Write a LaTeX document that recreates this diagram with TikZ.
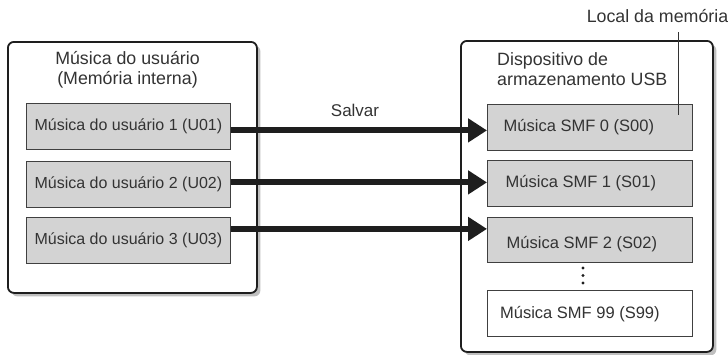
\documentclass[tikz,border=0pt]{standalone}
\usepackage{fontspec}
\setmainfont{Liberation Sans}
\usetikzlibrary{arrows.meta,shadows}
\definecolor{txt}{HTML}{333333}
\definecolor{boxfill}{HTML}{D3D3D3}
\definecolor{edge}{HTML}{1E1E1E}
\tikzset{
  outerbox/.style={draw=edge, line width=1.8pt, rounded corners=6pt, fill=white,
    drop shadow={shadow xshift=3.5pt, shadow yshift=-3.5pt, fill=black!25, opacity=1},
    minimum width=#1, anchor=north west, inner sep=0pt},
  songbox/.style={draw=black!75, line width=0.8pt, fill=boxfill, minimum width=205pt,
    minimum height=46pt, anchor=north west, inner sep=0pt},
  emptybox/.style={songbox, fill=white},
  lbl/.style={text=txt, font=\fontsize{16}{19}\selectfont, inner sep=0pt},
  rlbl/.style={lbl, font=\fontsize{16.5}{19}\selectfont},
  title/.style={lbl, font=\fontsize{17.8}{20}\selectfont},
  savearrow/.style={line width=6pt, draw=edge, -{Triangle[length=19pt,width=23pt]}},
}
\begin{document}
\begin{tikzpicture}[x=1pt,y=-1pt]
\useasboundingbox (0,0) rectangle (728,354);
% outer boxes
\node[outerbox=249pt, minimum height=251pt] (L) at (7,41) {};
\node[outerbox=252pt, minimum height=311pt] (R) at (460,40) {};
% titles
\node[title, align=center] (Ltitle) at (127.5,70) {Música do usuário\\(Memória interna)};
\node[title, align=left, anchor=west] (Rtitle) at (497,69) {Dispositivo de\\armazenamento USB};
% left songs
\node[songbox, minimum width=204pt] (u1) at (26,103) {};
\node[songbox, minimum width=204pt] (u2) at (26,161) {};
\node[songbox, minimum width=204pt] (u3) at (26,217) {};
\node[lbl] (u1t) at (u1.center) {Música do usuário 1 (U01)};
\node[lbl] (u2t) at (u2.center) {Música do usuário 2 (U02)};
\node[lbl] (u3t) at (u3.center) {Música do usuário 3 (U03)};
% right songs
\node[songbox] (s1) at (487,104) {};
\node[songbox] (s2) at (487,160) {};
\node[songbox, minimum height=45pt] (s3) at (487,217) {};
\node[emptybox] (s4) at (487,290) {};
\node[rlbl] (s1t) at ([xshift=-11pt]s1.center) {Música SMF 0 (S00)};
\node[rlbl] (s2t) at ([xshift=-9pt]s2.center) {Música SMF 1 (S01)};
\node[rlbl] (s3t) at ([xshift=-8pt,yshift=-4pt]s3.center) {Música SMF 2 (S02)};
\node[rlbl] (s4t) at ([xshift=-10pt,yshift=-1pt]s4.center) {Música SMF 99 (S99)};
% dots
\node[circle, fill=edge, inner sep=0pt, minimum size=3.4pt] (d1) at (583,268) {};
\node[circle, fill=edge, inner sep=0pt, minimum size=3.4pt] (d2) at (583,275.5) {};
\node[circle, fill=edge, inner sep=0pt, minimum size=3.4pt] (d3) at (583,283) {};
% arrows
\coordinate (a1) at ([yshift=-4pt]u1.east);
\coordinate (a2) at ([yshift=2pt]u2.east);
\coordinate (a3) at ([yshift=11.5pt]u3.east);
\draw[savearrow] (a1) -- (s1.west |- a1);
\draw[savearrow] (a2) -- (s2.west |- a2);
\draw[savearrow] (a3) -- (s3.west |- a3);
\node[lbl, font=\fontsize{17}{20}\selectfont] (save) at (355,110) {Salvar};
% memory location callout
\node[title] (mem) at (657.5,16) {Local da memória};
\coordinate (memtip) at (678,115);
\coordinate (memtop) at (678,32);
\draw[line width=0.8pt, draw=black!80] (memtop) -- (memtip);
\end{tikzpicture}
\end{document}
